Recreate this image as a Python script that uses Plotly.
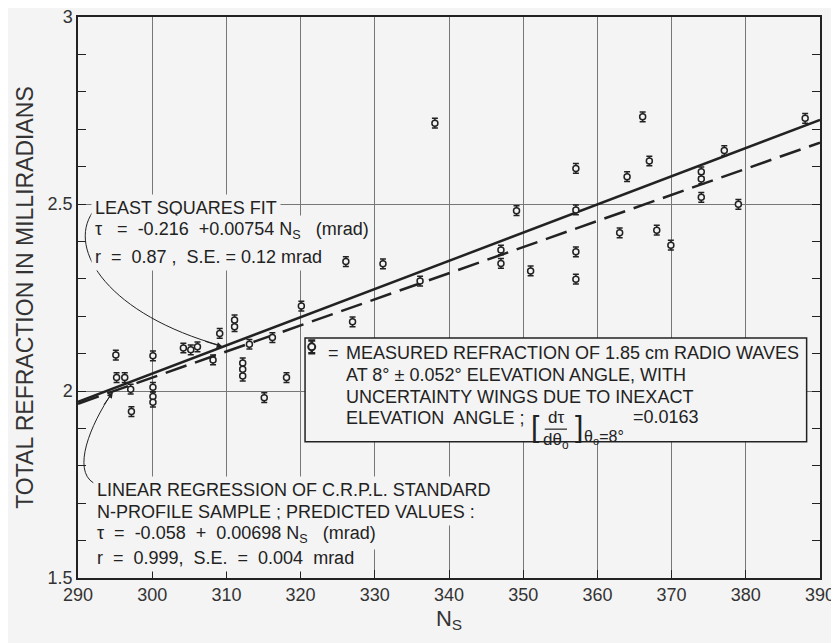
import plotly.graph_objects as go

# measured refraction vs surface refractivity
ns = [295.1, 295.2, 296.3, 297.1, 297.2, 300.1, 300.1, 300.1, 300.1,
      304.2, 305.2, 306.1, 308.2, 309.1, 311.1, 311.1, 312.2, 312.2, 312.2,
      313.1, 315.1, 316.2, 318.1, 320.1, 326.1, 327.0, 331.1, 336.1, 338.1,
      347.0, 347.0, 349.1, 351.0, 357.1, 357.1, 357.1, 357.1, 363.0, 364.0,
      366.1, 367.0, 368.0, 369.9, 374.0, 374.0, 374.0, 377.1, 379.0, 388.0]
tau = [2.096, 2.036, 2.036, 2.005, 1.945, 2.094, 2.010, 1.985, 1.970,
       2.115, 2.110, 2.118, 2.083, 2.154, 2.190, 2.172, 2.075, 2.058, 2.040,
       2.125, 1.982, 2.143, 2.036, 2.227, 2.346, 2.185, 2.340, 2.294, 2.716,
       2.377, 2.341, 2.482, 2.321, 2.595, 2.484, 2.372, 2.299, 2.423, 2.573,
       2.733, 2.615, 2.430, 2.390, 2.586, 2.567, 2.518, 2.643, 2.499, 2.729]
wing = 0.013

# least squares fit and CRPL regression line end points
fit_x = [290, 390]
fit_y = [1.971, 2.725]
crpl_x = [290, 390]
crpl_y = [1.966, 2.664]

x_ticks = [290, 300, 310, 320, 330, 340, 350, 360, 370, 380, 390]

bg = '#f4f4f4'
ink = '#222222'
font = 'Liberation Sans'

fig = go.Figure()

fig.add_trace(go.Scatter(x=fit_x, y=fit_y, mode='lines',
                         line=dict(color=ink, width=2.5)))
fig.add_trace(go.Scatter(x=crpl_x, y=crpl_y, mode='lines',
                         line=dict(color=ink, width=2.5, dash='22px,9px')))
fig.add_trace(go.Scatter(x=ns, y=tau, mode='markers',
                         marker=dict(symbol='circle', size=6, color=bg,
                                     line=dict(color=ink, width=1.5)),
                         error_y=dict(type='constant', value=wing, thickness=1.5,
                                      width=3, color=ink)))
# key glyph inside the legend box
fig.add_trace(go.Scatter(x=[321.5], y=[2.118], mode='markers',
                         marker=dict(symbol='circle', size=7, color=bg,
                                     line=dict(color=ink, width=2)),
                         error_y=dict(type='constant', value=0.017, thickness=2.5,
                                      width=3.5, color=ink)))

# legend box
fig.add_shape(type='rect', x0=320.6, x1=388.2, y0=1.864, y1=2.142,
              xref='x', yref='y', layer='between',
              fillcolor=bg, line=dict(color=ink, width=1.5))

# curved pointers
fig.add_shape(type='path', xref='x', yref='y',
              path='M 292.0,2.479 C 288.4,2.377 294.31,2.203 309.3,2.121',
              line=dict(color=ink, width=1))
fig.add_shape(type='path', xref='x', yref='y',
              path='M 292.1,1.754 C 289.2,1.789 291.62,1.909 294.6,1.995',
              line=dict(color=ink, width=1))

notes = []


def note(x, y, text, size=18, anchor='left', bgc=bg):
    notes.append(dict(x=x, y=y, xref='x', yref='y', text=text, showarrow=False,
                      xanchor=anchor, yanchor='middle', bgcolor=bgc, borderpad=3,
                      font=dict(family=font, size=size, color=ink)))


# least squares block
note(291.8, 2.489, 'LEAST SQUARES FIT')
note(291.8, 2.430, 'τ   =  -0.216  +0.00754 N<sub>S</sub>   (mrad)')
note(291.8, 2.358, 'r  =  0.87 ,  S.E. = 0.12 mrad')

# CRPL block
note(292.0, 1.735, 'LINEAR REGRESSION OF C.R.P.L. STANDARD')
note(292.0, 1.677, 'N-PROFILE SAMPLE ; PREDICTED VALUES :')
note(292.0, 1.615, 'τ  =  -0.058  +  0.00698 N<sub>S</sub>   (mrad)')
note(292.0, 1.554, 'r  =  0.999,  S.E.  =  0.004  mrad')

# legend text
note(323.2, 2.102, '=', bgc=None)
note(325.6, 2.102, 'MEASURED REFRACTION OF 1.85 cm RADIO WAVES', bgc=None)
note(325.6, 2.043, 'AT 8° ± 0.052° ELEVATION ANGLE, WITH', bgc=None)
note(325.6, 1.984, 'UNCERTAINTY WINGS DUE TO INEXACT', bgc=None)
note(325.6, 1.928, 'ELEVATION  ANGLE ;', bgc=None)
note(350.5, 1.906, '[', size=30, bgc=None)
note(354.4, 1.929, 'dτ', size=17, anchor='center', bgc=None)
note(354.4, 1.866, 'dθ<sub>o</sub>', size=17, anchor='center', bgc=None)
note(356.5, 1.906, ']', size=30, bgc=None)
note(357.7, 1.876, 'θ<sub>o</sub>=8°', size=16, bgc=None)
note(364.3, 1.930, '=0.0163', bgc=None)
fig.add_shape(type='line', xref='x', yref='y', x0=352.9, x1=355.9, y0=1.898, y1=1.898,
              line=dict(color=ink, width=1.2))

# arrow heads
notes.append(dict(x=309.5, y=2.118, xref='x', yref='y', showarrow=True, text='',
                  ax=-19, ay=-6, arrowhead=2, arrowsize=1.2, arrowwidth=1, arrowcolor=ink))
notes.append(dict(x=294.7, y=1.997, xref='x', yref='y', showarrow=True, text='',
                  ax=-10, ay=14, arrowhead=2, arrowsize=1.2, arrowwidth=1, arrowcolor=ink))

# page body adds an 8px offset, margins compensate for it
fig.update_layout(
    width=839, height=643,
    margin=dict(l=70, r=27, t=9, b=73),
    paper_bgcolor=bg, plot_bgcolor=bg,
    showlegend=False,
    annotations=notes,
    font=dict(family=font, color='#333333'),
)
fig.update_xaxes(
    range=[290, 390], tickvals=x_ticks, ticks='inside', ticklen=8, tickcolor=ink,
    showgrid=True, gridcolor='#777777', gridwidth=1, automargin=False,
    showline=True, linecolor=ink, linewidth=1.5, mirror=True, zeroline=False,
    tickfont=dict(size=18, color='#333333'), ticklabeloverflow='allow',
    title=dict(text='N<sub>S</sub>', font=dict(size=22, color='#333333'), standoff=6),
)
fig.update_yaxes(
    range=[1.5, 3], tickmode='linear', tick0=1.5, dtick=0.5, ticks='inside', ticklen=8,
    tickcolor=ink, minor=dict(dtick=0.1, ticks='inside', ticklen=8, tickcolor=ink,
                              showgrid=False),
    showgrid=True, gridcolor='#777777', gridwidth=1, automargin=False,
    showline=True, linecolor=ink, linewidth=1.5, mirror='ticks', zeroline=False,
    tickfont=dict(size=18, color='#333333'), ticklabeloverflow='allow',
    title=dict(text='TOTAL REFRACTION IN MILLIRADIANS',
               font=dict(size=23, color='#333333'), standoff=8),
)

fig.write_html("out.html")
